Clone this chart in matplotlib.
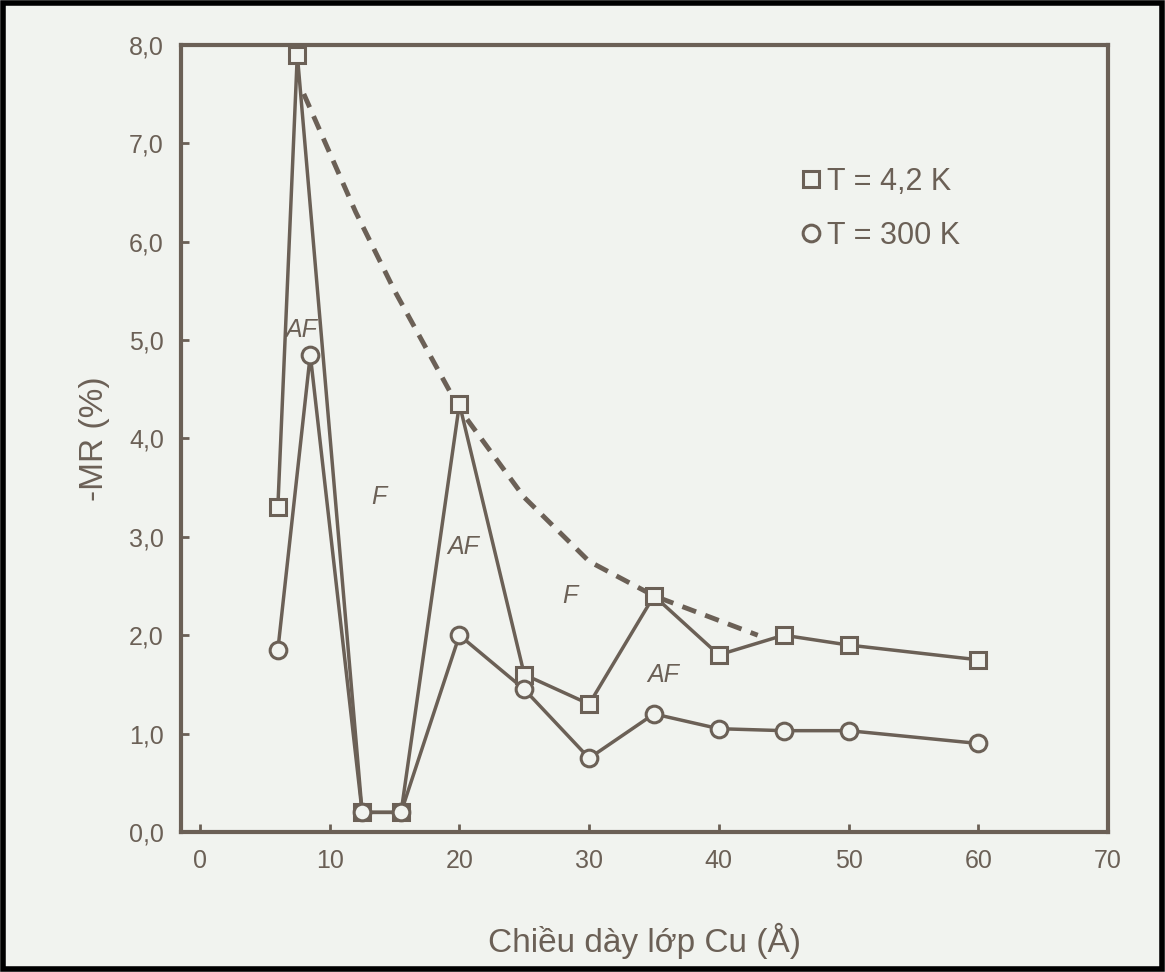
import matplotlib
matplotlib.use("Agg")
from matplotlib import pyplot as plt
from matplotlib.patches import Rectangle

plt.rcParams['font.family'] = ['Liberation Sans', 'DejaVu Sans']

# du lieu doc tu hinh
x_42k = [6, 7.5, 12.5, 15.5, 20, 25, 30, 35, 40, 45, 50, 60]
mr_42k = [3.3, 7.9, 0.2, 0.2, 4.35, 1.6, 1.3, 2.4, 1.8, 2.0, 1.9, 1.75]

x_300k = [6, 8.5, 12.5, 15.5, 20, 25, 30, 35, 40, 45, 50, 60]
mr_300k = [1.85, 4.85, 0.2, 0.2, 2.0, 1.45, 0.75, 1.2, 1.05, 1.03, 1.03, 0.9]

# duong bao (net dut)
x_env = [8, 10, 12, 15, 20, 25, 30, 35, 40, 43]
mr_env = [7.5, 6.9, 6.3, 5.5, 4.3, 3.4, 2.75, 2.4, 2.15, 2.0]

# nhan vung AF / F
region_labels = ["AF", "F", "AF", "F", "AF"]
region_x = [7.8, 13.8, 20.3, 28.5, 35.7]
region_y = [5.1, 3.4, 2.9, 2.4, 1.6]

y_ticks = [0, 1, 2, 3, 4, 5, 6, 7, 8]
y_labels = ["0,0", "1,0", "2,0", "3,0", "4,0", "5,0", "6,0", "7,0", "8,0"]
x_ticks = [0, 10, 20, 30, 40, 50, 60, 70]

col = "#6b6056"
bg = "#f1f3ef"

fig = plt.figure(figsize=(11.65, 9.72), dpi=100, facecolor=bg)
ax = fig.add_axes([0.155, 0.144, 0.796, 0.81])
ax.set_facecolor(bg)

ax.plot(x_env, mr_env, linestyle=(0, (3, 2)), color=col, lw=3.5)
ax.plot(x_42k, mr_42k, color=col, lw=2.5, marker="s", markersize=12,
        markerfacecolor=bg, markeredgewidth=2.2, label="T = 4,2 K")
ax.plot(x_300k, mr_300k, color=col, lw=2.5, marker="o", markersize=12,
        markerfacecolor=bg, markeredgewidth=2.2, label="T = 300 K")

for t, xx, yy in zip(region_labels, region_x, region_y):
    ax.text(xx, yy, t, fontsize=18, style="italic", color=col, ha="center", va="center")

ax.set_xlim(-1.5, 69)
ax.set_ylim(0, 8)
ax.set_yticks(y_ticks)
ax.set_yticklabels(y_labels)
ax.set_xticks(x_ticks)
ax.tick_params(direction="in", length=6, width=2, colors=col, labelsize=18, pad=12)
for s in ax.spines.values():
    s.set_color(col)
    s.set_linewidth(3)

ax.set_xlabel("Chiều dày lớp Cu (Å)", fontsize=24, color=col, labelpad=36)
ax.set_ylabel("-MR (%)", fontsize=24, color=col, labelpad=14)

leg = ax.legend(loc="upper right", bbox_to_anchor=(0.87, 0.88), frameon=False,
                fontsize=22, handlelength=0.6, handletextpad=0.2, labelspacing=0.8)
for line in leg.get_lines():
    line.set_linestyle("none")
for t in leg.get_texts():
    t.set_color(col)

fig.patches.append(Rectangle((0.003, 0.003), 0.994, 0.994, transform=fig.transFigure,
                             fill=False, edgecolor="black", lw=4))

plt.savefig("out.png", dpi=100, facecolor=bg)
plt.close()
